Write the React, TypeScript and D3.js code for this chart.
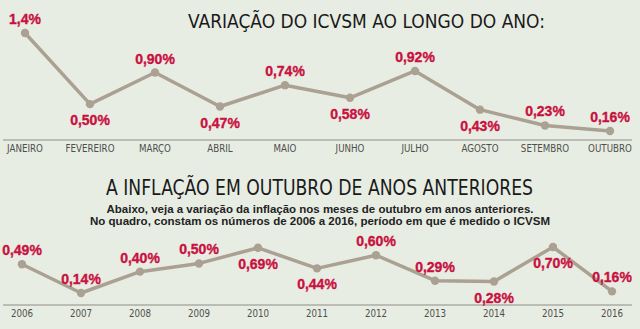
import React from "react";
import * as d3 from "d3";

const months = ["JANEIRO", "FEVEREIRO", "MARÇO", "ABRIL", "MAIO", "JUNHO", "JULHO", "AGOSTO", "SETEMBRO", "OUTUBRO"];
const monthValues = [1.4, 0.5, 0.9, 0.47, 0.74, 0.58, 0.92, 0.43, 0.23, 0.16];
const monthLabels = ["1,4%", "0,50%", "0,90%", "0,47%", "0,74%", "0,58%", "0,92%", "0,43%", "0,23%", "0,16%"];
const monthSide = [-1, 1, -1, 1, -1, 1, -1, 1, -1, -1];

const years = ["2006", "2007", "2008", "2009", "2010", "2011", "2012", "2013", "2014", "2015", "2016"];
const yearValues = [0.49, 0.14, 0.4, 0.5, 0.69, 0.44, 0.6, 0.29, 0.28, 0.7, 0.16];
const yearLabels = ["0,49%", "0,14%", "0,40%", "0,50%", "0,69%", "0,44%", "0,60%", "0,29%", "0,28%", "0,70%", "0,16%"];
const yearSide = [-1, -1, -1, -1, 1, 1, -1, -1, 1, 1, -1];

const title1 = "VARIAÇÃO DO ICVSM AO LONGO DO ANO:";
const title2 = "A INFLAÇÃO EM OUTUBRO DE ANOS ANTERIORES";
const sub1 = "Abaixo, veja a variação da inflação nos meses de outubro em anos anteriores.";
const sub2 = "No quadro, constam os números de 2006 a 2016, período em que é medido o ICVSM";

const BG = "#e8ede4";
const LINE = "#aaa193";
const RED = "#c8113f";
const AXIS = "#8e8e84";
const TICK = "#4e4f4a";
const narrow = "'Liberation Sans Narrow', 'DejaVu Sans Condensed', 'Roboto', sans-serif";
const sans = "'Liberation Sans', Arial, sans-serif";

function LineChart({ cats, values, labels, sides, x0, x1, yScale, axisY }: any) {
  const x = d3.scalePoint<string>().domain(cats).range([x0, x1]);
  const line = d3
    .line<number>()
    .x((_, i) => x(cats[i]) as number)
    .y((d) => yScale(d));
  return (
    <g>
      <line x1={3} x2={632} y1={axisY} y2={axisY} stroke={AXIS} strokeWidth={1.2} />
      <path d={line(values) || ""} fill="none" stroke={LINE} strokeWidth={3.5} strokeLinejoin="round" />
      {values.map((v: number, i: number) => (
        <circle key={i} cx={x(cats[i])} cy={yScale(v)} r={4.2} fill={LINE} />
      ))}
      {values.map((v: number, i: number) => (
        <text
          key={"l" + i}
          x={x(cats[i])}
          y={yScale(v) + (sides[i] < 0 ? -9 : 21)}
          textAnchor="middle"
          fontFamily={sans}
          fontWeight="bold"
          fontSize={14}
          fill={RED}
          stroke={RED}
          strokeWidth={0.35}
        >
          {labels[i]}
        </text>
      ))}
      {cats.map((c: string) => (
        <text
          key={c}
          x={x(c)}
          y={axisY + 12.5}
          textAnchor="middle"
          fontFamily={narrow}
          fontSize={11}
          fill={TICK}
          transform={`translate(${x(c)},0) scale(0.88,1) translate(${-(x(c) as number)},0)`}
        >
          {c}
        </text>
      ))}
    </g>
  );
}

export default function App() {
  const yTop = d3.scaleLinear().domain([0.16, 1.4]).range([131, 33]);
  const yBot = d3.scaleLinear().domain([0.14, 0.7]).range([293, 247]);
  return (
    <svg width={640} height={329} style={{ position: "absolute", left: 0, top: 0, background: BG }}>
      <rect x={0} y={0} width={640} height={329} fill={BG} />
      <text x={188} y={28} fontFamily={narrow} fontSize={20} fill="#1a1a1a" textLength={357} lengthAdjust="spacingAndGlyphs">
        {title1}
      </text>
      <LineChart cats={months} values={monthValues} labels={monthLabels} sides={monthSide} x0={25} x1={610} yScale={yTop} axisY={140} />
      <text x={106} y={195} fontFamily={narrow} fontSize={21} fill="#1a1a1a" textLength={427} lengthAdjust="spacingAndGlyphs">
        {title2}
      </text>
      <text x={320} y={213} textAnchor="middle" fontFamily={sans} fontWeight="bold" fontSize={11} fill="#222" textLength={427} lengthAdjust="spacingAndGlyphs">
        {sub1}
      </text>
      <text x={320} y={225} textAnchor="middle" fontFamily={sans} fontWeight="bold" fontSize={11} fill="#222" textLength={460} lengthAdjust="spacingAndGlyphs">
        {sub2}
      </text>
      <LineChart cats={years} values={yearValues} labels={yearLabels} sides={yearSide} x0={22} x1={612} yScale={yBot} axisY={305} />
    </svg>
  );
}
